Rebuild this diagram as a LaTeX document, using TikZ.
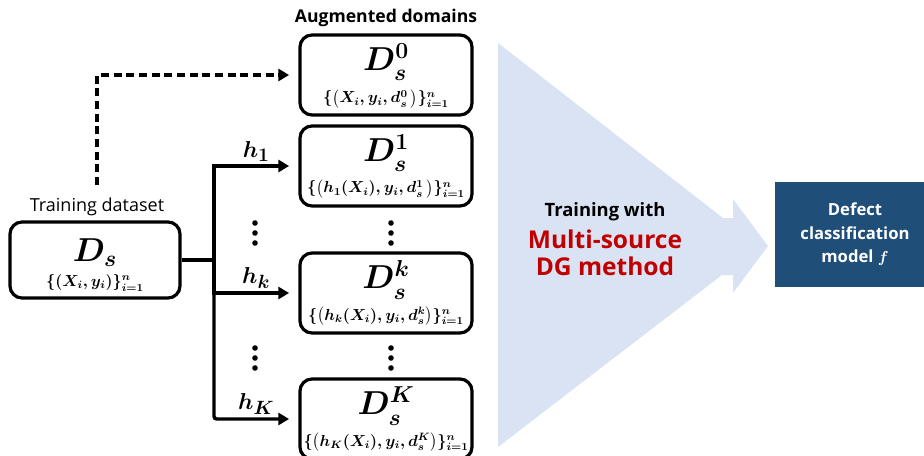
\documentclass[tikz,border=0pt]{standalone}
\usepackage{amsmath,amssymb}
\usepackage[no-math]{fontspec}
\setmainfont{Open Sans}
\usepackage{tikz}
\usetikzlibrary{positioning,calc}
\usetikzlibrary{arrows.meta}
\definecolor{FlowBlue}{RGB}{218,227,243}
\definecolor{ModelBlue}{RGB}{31,78,121}
\definecolor{DGRed}{RGB}{192,0,0}
\tikzset{
  dom/.style={draw=black,line width=2.4pt,rounded corners=9pt,
    minimum width=129pt,minimum height=60pt},
  bigD/.style={font=\fontsize{24}{28}\selectfont\boldmath,inner sep=0pt},
  tuple/.style={font=\fontsize{11.5}{14}\selectfont\boldmath,inner sep=0pt},
  flow/.style={line width=2.6pt,-{Triangle[length=8pt,width=9pt]},shorten >=7pt},
  dashflow/.style={flow,line width=2.3pt,dash pattern=on 6pt off 3.5pt},
  hlab/.style={font=\fontsize{19}{21}\selectfont\boldmath,above,inner sep=2pt},
  caption/.style={font=\fontsize{13.5}{16}\selectfont},
  model/.style={fill=ModelBlue,text=white,align=center,minimum width=120pt,
    minimum height=79pt,font=\bfseries\fontsize{12.5}{17.5}\selectfont},
}

\begin{document}
\begin{tikzpicture}[x=0.75pt,y=-0.75pt]
\useasboundingbox (0,0) rectangle (924,456);

% big training arrow
\fill[FlowBlue] (498,43) -- (723,218) -- (733,218) -- (733,199) -- (768,246)
  -- (733,293) -- (733,275) -- (722,275) -- (498,447) -- cycle;
\node[font=\bfseries\fontsize{13.8}{16}\selectfont] (train) at (605,212) {Training with};
\node[font=\bfseries\fontsize{18.4}{20.5}\selectfont,text=DGRed,align=center] (dg) at (605,253)
  {Multi-source\\DG method};

% source domain
\node[dom,minimum width=127.5pt,minimum height=57pt] (ds) at (95,260) {};
\node[caption] (dslab) at (97,207) {Training dataset};
\node[bigD] at ($(ds.center)+(0,-7)$) {$D_s$};
\node[tuple] at ($(ds.center)+(0,23)$) {$\{(X_i,y_i)\}_{i=1}^{n}$};

% augmented domains
\node[font=\bfseries\fontsize{13.2}{16}\selectfont] (aug) at (386,18) {Augmented domains};
\node[dom] (d0) at (386,75) {};
\node[dom] (d1) at (386,166) {};
\node[dom] (dk) at (386,293) {};
\node[dom] (dK) at (386,419) {};
\node[bigD] at ($(d0.center)+(0,-13)$) {$D_s^0$};
\node[bigD] at ($(d1.center)+(0,-13)$) {$D_s^1$};
\node[bigD] at ($(dk.center)+(0,-13)$) {$D_s^k$};
\node[bigD] at ($(dK.center)+(0,-13)$) {$D_s^K$};
\node[tuple] at ($(d0.center)+(0,24)$) {$\{\big(X_i,y_i,d_s^0\,\big)\}_{i=1}^{n}$};
\node[tuple] at ($(d1.center)+(0,23)$) {$\{\big(h_1(X_i),y_i,d_s^1\,\big)\}_{i=1}^{n}$};
\node[tuple] at ($(dk.center)+(0,23)$) {$\{\big(h_k(X_i),y_i,d_s^k\big)\}_{i=1}^{n}$};
\node[tuple] at ($(dK.center)+(0,23)$) {$\{\big(h_K(X_i),y_i,d_s^K\big)\}_{i=1}^{n}$};

% connectors
\coordinate (split) at (214,260);
\coordinate (dstart) at (97,185);
\draw[line width=2.6pt] (ds.east) -- (split);
\draw[flow] (split) |- (d1.west) node[hlab,pos=0.75] {$h_1$};
\draw[flow] (split) |- (dk.west) node[hlab,pos=0.75] {$h_k$};
\draw[flow,rounded corners=2pt] (split) |- (dK.west) node[hlab,pos=0.75] {$h_K$};
\draw[dashflow] (dstart) |- (d0.west);

% dots
\foreach \x in {255,391}
  \foreach \y in {223,233,243,348,358,368}
    \fill (\x,\y) circle[radius=2.1pt];

% classifier
\node[model] (clf) at (855,234.5) {Defect\\classification\\model {\large$\boldsymbol{f}$}};
\end{tikzpicture}
\end{document}
